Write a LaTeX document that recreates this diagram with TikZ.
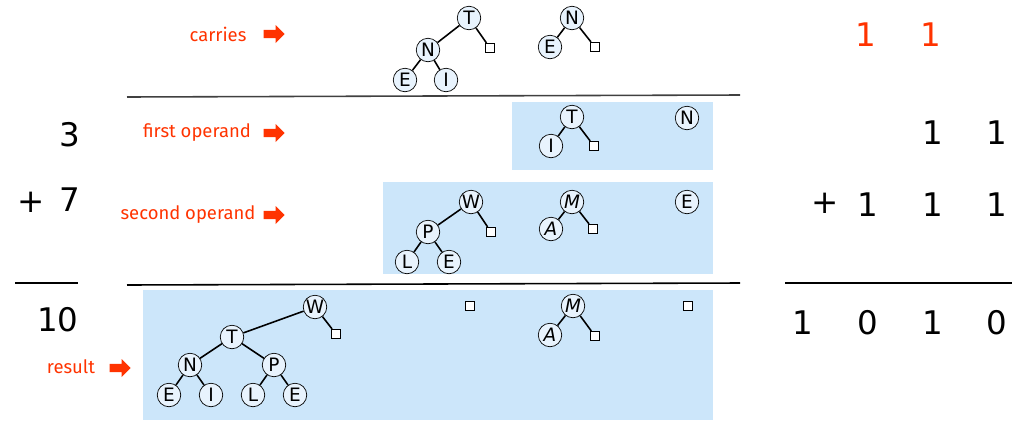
\documentclass[tikz,border=0pt]{standalone}
\usepackage{fontspec}
\setmainfont{DejaVu Sans}
\newfontfamily\tagfont{Fira Sans}
\usetikzlibrary{shapes.arrows}

\definecolor{opblue}{RGB}{204,230,250}
\definecolor{keyfill}{RGB}{232,243,253}
\definecolor{carryred}{RGB}{255,51,0}

\tikzset{
  key/.style = {circle, draw, fill = keyfill, minimum size = 0.47cm, inner sep = 0pt, font = \fontsize{10.5}{11}\selectfont},
  ikey/.style = {key, font = \fontsize{10.5}{11}\selectfont\itshape},
  leaf/.style = {rectangle, draw, fill = white, minimum size = 0.19cm, inner sep = 0pt},
  edge/.style = {line width = 0.9pt},
  tag/.style = {text = carryred, font = \tagfont\fontsize{10.5}{11}\selectfont},
  pointer/.style = {single arrow, fill = carryred, draw = none, minimum height = 0.42cm, minimum width = 0.36cm, single arrow head extend = 0.05cm, inner sep = 1pt},
  digit/.style = {font = \fontsize{18.5}{20}\selectfont},
  rule/.style = {line width = 0.9pt}
}

\begin{document}
\begin{tikzpicture}[x = 0.02cm, y = -0.02cm]
\useasboundingbox (0,0) rectangle (1014,420);

% operand boxes
\fill[opblue] (512,102) rectangle (713,170);
\fill[opblue] (383,182) rectangle (713,274);
\fill[opblue] (143,290) rectangle (713,420);

% rules
\draw[rule, black!75] (127,97) -- (740,95);
\draw[rule] (127,285) -- (740,283);
\draw[rule] (15,283) -- (78,283);
\draw[rule] (785,283) -- (1012,283);

% labels with pointers
\node[tag] (carries) at (218,34) {carries};
\node[pointer] (pcarries) at (272,34) {};
\node[tag] (first) at (197,133) {first operand};
\node[pointer] (pfirst) at (272,133) {};
\node[tag] (second) at (188,215) {second operand};
\node[pointer] (psecond) at (272,215) {};
\node[tag] (result) at (71,367) {result};
\node[pointer] (presult) at (118,368) {};

% decimal sum
\node[digit] (d3) at (70,135) {3};
\node[digit] (dplus) at (31,202) {+};
\node[digit] (d7) at (70,200) {7};
\node[digit] (d10) at (58,320) {10};

% binary sum
\node[digit, text = carryred] (c2) at (866,35) {1};
\node[digit, text = carryred] (c1) at (931,35) {1};
\node[digit] (a1) at (933,133) {1};
\node[digit] (a0) at (997,133) {1};
\node[digit] (bplus) at (825,203) {+};
\node[digit] (b2) at (868,205) {1};
\node[digit] (b1) at (933,205) {1};
\node[digit] (b0) at (997,205) {1};
\node[digit] (s3) at (803,323) {1};
\node[digit] (s2) at (868,323) {0};
\node[digit] (s1) at (933,323) {1};
\node[digit] (s0) at (997,323) {0};

% carries
\node[key] (ct) at (469,18) {T};
\node[key] (cn) at (428,50) {N};
\node[key] (ce) at (405,80) {E};
\node[key] (ci) at (446,80) {I};
\node[leaf] (cl) at (490,48) {};
\draw[edge] (ct) -- (cn);
\draw[edge] (ct) -- (cl);
\draw[edge] (cn) -- (ce);
\draw[edge] (cn) -- (ci);
\node[key] (cn2) at (572,18) {N};
\node[key] (ce2) at (550,47) {E};
\node[leaf] (cl2) at (595,47) {};
\draw[edge] (cn2) -- (ce2);
\draw[edge] (cn2) -- (cl2);

% first operand
\node[key] (ft) at (572,117) {T};
\node[key] (fi) at (551,146) {I};
\node[leaf] (fl) at (594,146) {};
\draw[edge] (ft) -- (fi);
\draw[edge] (ft) -- (fl);
\node[key] (fn) at (687,118) {N};

% second operand
\node[key] (sw) at (471,202) {W};
\node[key] (sp) at (428,232) {P};
\node[key] (sl) at (407,262) {L};
\node[key] (se) at (449,262) {E};
\node[leaf] (sq) at (491,232) {};
\draw[edge] (sw) -- (sp);
\draw[edge] (sw) -- (sq);
\draw[edge] (sp) -- (sl);
\draw[edge] (sp) -- (se);
\node[ikey] (sm) at (572,202) {M};
\node[ikey] (sa) at (551,229) {A};
\node[leaf] (sq2) at (593,229) {};
\draw[edge] (sm) -- (sa);
\draw[edge] (sm) -- (sq2);
\node[key] (se2) at (687,202) {E};

% result
\node[key] (rw) at (315,307) {W};
\node[leaf] (rq) at (336,334) {};
\node[key] (rt) at (232,337) {T};
\node[key] (rn) at (190,365) {N};
\node[key] (rp) at (274,365) {P};
\node[key] (re) at (169,395) {E};
\node[key] (ri) at (211,395) {I};
\node[key] (rl) at (253,395) {L};
\node[key] (re2) at (295,395) {E};
\draw[edge] (rw) -- (rt);
\draw[edge] (rw) -- (rq);
\draw[edge] (rt) -- (rn);
\draw[edge] (rt) -- (rp);
\draw[edge] (rn) -- (re);
\draw[edge] (rn) -- (ri);
\draw[edge] (rp) -- (rl);
\draw[edge] (rp) -- (re2);
\node[leaf] (rq2) at (470,306) {};
\node[ikey] (rm) at (573,306) {M};
\node[ikey] (ra) at (550,335) {A};
\node[leaf] (rq3) at (595,336) {};
\draw[edge] (rm) -- (ra);
\draw[edge] (rm) -- (rq3);
\node[leaf] (rq4) at (688,306) {};
\end{tikzpicture}
\end{document}
